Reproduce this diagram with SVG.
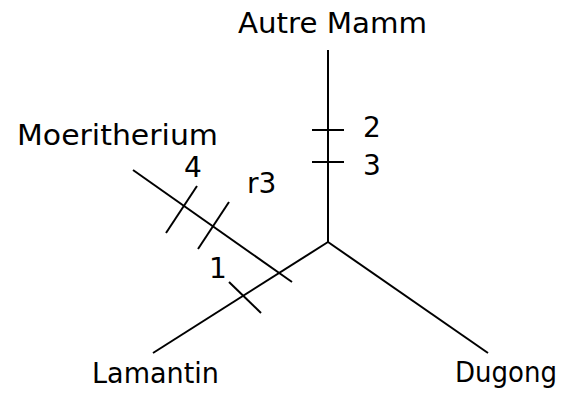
<svg xmlns="http://www.w3.org/2000/svg" width="565" height="394" viewBox="0 0 565 394">
<style>
.l{stroke:#000;stroke-width:2;fill:none;stroke-linecap:butt}
.t{font-family:"DejaVu Sans","Liberation Sans",sans-serif;font-size:28px;fill:#000}
</style>
<rect width="565" height="394" fill="#fff"/>
<g id="connectors">
<line class="l" x1="328" y1="50" x2="328" y2="242"/>
<line class="l" x1="328" y1="242" x2="153" y2="353"/>
<line class="l" x1="328" y1="242" x2="488" y2="353"/>
<line class="l" x1="133" y1="170" x2="292" y2="282"/>
<line class="l" x1="312" y1="130" x2="344" y2="130"/>
<line class="l" x1="312" y1="162" x2="344" y2="162"/>
<line class="l" x1="197" y1="186" x2="166" y2="233"/>
<line class="l" x1="229" y1="202" x2="198" y2="249"/>
<line class="l" x1="229" y1="282" x2="261" y2="313"/>
</g>
<g id="autre"><text class="t" x="238" y="33" textLength="189" lengthAdjust="spacingAndGlyphs">Autre Mamm</text></g>
<g id="moeritherium"><text class="t" x="17" y="145" textLength="201" lengthAdjust="spacingAndGlyphs">Moeritherium</text></g>
<g id="lamantin"><text class="t" x="92" y="383" textLength="127" lengthAdjust="spacingAndGlyphs">Lamantin</text></g>
<g id="dugong"><text class="t" x="455" y="382" font-size="27" textLength="102" lengthAdjust="spacingAndGlyphs">Dugong</text></g>
<g id="labels">
<text class="t" x="363" y="137">2</text>
<text class="t" x="363" y="175">3</text>
<text class="t" x="184" y="177">4</text>
<text class="t" x="247" y="193">r3</text>
<text class="t" x="209" y="278">1</text>
</g>
</svg>
